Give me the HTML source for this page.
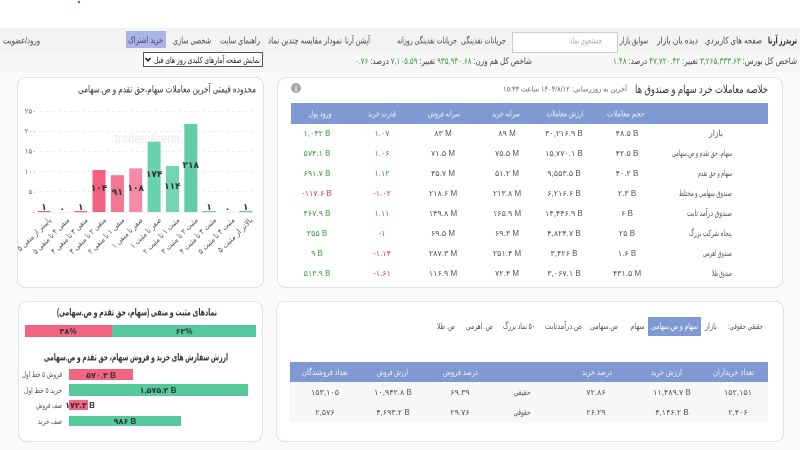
<!DOCTYPE html>
<html><head><meta charset="utf-8">
<style>
*{margin:0;padding:0}
body{width:800px;height:450px;overflow:hidden;background:#fafafa}
svg{display:block}
text{font-family:"Liberation Sans","DejaVu Sans",sans-serif}
.p{direction:rtl}
.nv{font-size:9px;fill:#444}
.th{font-size:8.5px;fill:#eef2fb}
.td{font-size:8px;fill:#555}
.tn{font-size:8.5px;fill:#555}
.g{fill:#3f9a3f}
.rd{fill:#e23a52}
.bl{font-size:9px;font-weight:bold;fill:#333}
.yl{font-size:7px;fill:#666}
.xl{font-size:8px;fill:#555}
.tb{font-size:8.5px;fill:#555}
</style></head><body>
<svg width="800" height="450" viewBox="0 0 800 450" xmlns="http://www.w3.org/2000/svg">
<rect x="0" y="0" width="800" height="450" fill="#fafafa"/>
<rect x="0" y="0" width="800" height="28" fill="#fff"/>
<rect x="78" y="1" width="2" height="2" fill="#e33"/>
<rect x="0" y="28" width="800" height="24" fill="#f3f3f3"/>
<rect x="0" y="52" width="800" height="20" fill="#f7f7f7"/>

<!-- nav -->
<text class="p" x="782.5" y="43.5" font-size="9.5" font-weight="bold" fill="#222" text-anchor="middle" textLength="29" lengthAdjust="spacingAndGlyphs">تریدرز آرنا</text>
<text class="p nv" x="733.5" y="43.5" text-anchor="middle" textLength="57" lengthAdjust="spacingAndGlyphs">صفحه های کاربردی</text>
<text class="p nv" x="677.5" y="43.5" text-anchor="middle" textLength="41" lengthAdjust="spacingAndGlyphs">دیده بان بازار</text>
<text class="p nv" x="634" y="43.5" text-anchor="middle" textLength="28" lengthAdjust="spacingAndGlyphs">سوابق بازار</text>
<rect x="512.5" y="32.5" width="105" height="20" fill="#fff" stroke="#ccc"/>
<text class="p nv" x="586" y="43.5" style="fill:#aaa" text-anchor="middle" textLength="32" lengthAdjust="spacingAndGlyphs">جستجوی نماد</text>
<text class="p nv" x="483.5" y="43.5" text-anchor="middle" textLength="45" lengthAdjust="spacingAndGlyphs">جریانات نقدینگی</text>
<text class="p nv" x="427" y="43.5" text-anchor="middle" textLength="60" lengthAdjust="spacingAndGlyphs">جریانات نقدینگی روزانه</text>
<text class="p nv" x="357.5" y="43.5" text-anchor="middle" textLength="25" lengthAdjust="spacingAndGlyphs">آپشن آرنا</text>
<text class="p nv" x="305" y="43.5" text-anchor="middle" textLength="74" lengthAdjust="spacingAndGlyphs">نمودار مقایسه چندین نماد</text>
<text class="p nv" x="240" y="43.5" text-anchor="middle" textLength="40" lengthAdjust="spacingAndGlyphs">راهنمای سایت</text>
<text class="p nv" x="192" y="43.5" text-anchor="middle" textLength="38" lengthAdjust="spacingAndGlyphs">شخصی سازی</text>
<rect x="126" y="31" width="40" height="17" fill="#a9b3ec"/>
<text class="p nv" x="145.5" y="43" text-anchor="middle" textLength="35" lengthAdjust="spacingAndGlyphs">خرید اشتراک</text>
<text class="p nv" x="21.5" y="43.5" text-anchor="middle" textLength="37" lengthAdjust="spacingAndGlyphs">ورود/عضویت</text>

<text class="p nv" x="705" y="64" text-anchor="middle" textLength="184" lengthAdjust="spacingAndGlyphs">شاخص کل بورس: <tspan class="g">۳,۲۶۵,۳۳۳.۶۳</tspan> تغییر: <tspan class="g">۴۷,۷۲۰.۴۲</tspan> درصد: <tspan class="g">۱.۴۸</tspan></text>
<text class="p nv" x="443.5" y="64" text-anchor="middle" textLength="177" lengthAdjust="spacingAndGlyphs">شاخص کل هم وزن: <tspan class="g">۹۳۵,۹۴۰.۶۸</tspan> تغییر: <tspan class="g">۷,۱۰۵.۵۹</tspan> درصد: <tspan class="g">۰.۷۶</tspan></text>

<rect x="143.5" y="52.5" width="119" height="14" fill="#fff" stroke="#555"/>
<text class="p" x="207" y="62.8" font-size="8.5" fill="#222" text-anchor="middle" textLength="106" lengthAdjust="spacingAndGlyphs">نمایش صفحه آمارهای کلیدی روز های قبل</text>
<polyline points="145.5,58 148,60.8 150.5,58" fill="none" stroke="#111" stroke-width="1.5"/>

<!-- cards -->
<rect x="17.5" y="77.5" width="246" height="210" rx="8" fill="#fff" stroke="#e3e3e3"/>
<rect x="277.5" y="77.5" width="505" height="210" rx="8" fill="#fff" stroke="#e3e3e3"/>
<rect x="18.5" y="301.5" width="244" height="140" rx="8" fill="#fff" stroke="#e3e3e3"/>
<rect x="276.5" y="301.5" width="507" height="140" rx="8" fill="#fff" stroke="#e3e3e3"/>

<!-- left chart -->
<text class="p" x="167" y="92.5" font-size="10" fill="#333" text-anchor="middle" textLength="178" lengthAdjust="spacingAndGlyphs">محدوده قیمتی آخرین معاملات سهام،حق تقدم و ص.سهامی</text>
<text x="149" y="143" font-size="14" fill="#ebebeb" text-anchor="middle" textLength="68" lengthAdjust="spacingAndGlyphs">tradersArena.</text>

<g stroke="#ececec" stroke-dasharray="3,3">
<line x1="40" y1="111.5" x2="256" y2="111.5"/>
<line x1="40" y1="131.5" x2="256" y2="131.5"/>
<line x1="40" y1="151.5" x2="256" y2="151.5"/>
<line x1="40" y1="171.5" x2="256" y2="171.5"/>
<line x1="40" y1="191.5" x2="256" y2="191.5"/>
<line x1="40" y1="212.5" x2="256" y2="212.5"/>
</g>
<text class="yl" x="36" y="113.5" text-anchor="end">۲۵۰</text>
<text class="yl" x="36" y="133.5" text-anchor="end">۲۰۰</text>
<text class="yl" x="36" y="153.5" text-anchor="end">۱۵۰</text>
<text class="yl" x="36" y="174" text-anchor="end">۱۰۰</text>
<text class="yl" x="36" y="194" text-anchor="end">۵۰</text>
<text class="yl" x="36" y="214.5" text-anchor="end">۰</text>

<rect x="37.5" y="211" width="13" height="1.2" fill="#f2617f"/>
<rect x="74.2" y="211" width="13" height="1.2" fill="#f2617f"/>
<rect x="92.5" y="170" width="13" height="42" fill="#f2617f"/>
<rect x="110.9" y="175.2" width="13" height="36.8" fill="#f27592"/>
<rect x="129.2" y="168.4" width="13" height="43.6" fill="#f58aa5"/>
<rect x="147.6" y="141.7" width="13" height="70.3" fill="#68d2ab"/>
<rect x="166" y="165.9" width="13" height="46.1" fill="#72d5b2"/>
<rect x="184.3" y="123.9" width="13" height="88.1" fill="#62cca4"/>
<rect x="202.6" y="211" width="13" height="1.2" fill="#62cca4"/>
<rect x="239.3" y="211" width="13" height="1.2" fill="#62cca4"/>

<text class="bl" x="44" y="210" text-anchor="middle">۱</text>
<text class="bl" x="62.3" y="212" text-anchor="middle">۰</text>
<text class="bl" x="80.7" y="210" text-anchor="middle">۱</text>
<text class="bl" x="99" y="191" text-anchor="middle">۱۰۴</text>
<text class="bl" x="117.4" y="195" text-anchor="middle">۹۱</text>
<text class="bl" x="135.7" y="191" text-anchor="middle">۱۰۸</text>
<text class="bl" x="154.1" y="177" text-anchor="middle">۱۷۴</text>
<text class="bl" x="172.4" y="189" text-anchor="middle">۱۱۴</text>
<text class="bl" x="190.8" y="168" text-anchor="middle">۲۱۸</text>
<text class="bl" x="209.1" y="210" text-anchor="middle">۱</text>
<text class="bl" x="227.5" y="212" text-anchor="middle">۰</text>
<text class="bl" x="245.8" y="210" text-anchor="middle">۱</text>

<g transform="translate(48,217) rotate(-45)"><text class="p xl" x="-22" y="5" text-anchor="middle" textLength="44" lengthAdjust="spacingAndGlyphs">پایینتر از منفی ۵</text></g>
<g transform="translate(66.3,217) rotate(-45)"><text class="p xl" x="-24" y="5" text-anchor="middle" textLength="48" lengthAdjust="spacingAndGlyphs">منفی ۴ تا منفی ۵</text></g>
<g transform="translate(84.7,217) rotate(-45)"><text class="p xl" x="-24" y="5" text-anchor="middle" textLength="48" lengthAdjust="spacingAndGlyphs">منفی ۳ تا منفی ۴</text></g>
<g transform="translate(103,217) rotate(-45)"><text class="p xl" x="-24" y="5" text-anchor="middle" textLength="48" lengthAdjust="spacingAndGlyphs">منفی ۲ تا منفی ۳</text></g>
<g transform="translate(121.4,217) rotate(-45)"><text class="p xl" x="-24" y="5" text-anchor="middle" textLength="48" lengthAdjust="spacingAndGlyphs">منفی ۱ تا منفی ۲</text></g>
<g transform="translate(139.7,217) rotate(-45)"><text class="p xl" x="-20" y="5" text-anchor="middle" textLength="40" lengthAdjust="spacingAndGlyphs">صفر تا منفی ۱</text></g>
<g transform="translate(158.1,217) rotate(-45)"><text class="p xl" x="-20" y="5" text-anchor="middle" textLength="40" lengthAdjust="spacingAndGlyphs">صفر تا مثبت ۱</text></g>
<g transform="translate(176.4,217) rotate(-45)"><text class="p xl" x="-24" y="5" text-anchor="middle" textLength="48" lengthAdjust="spacingAndGlyphs">مثبت ۱ تا مثبت ۲</text></g>
<g transform="translate(194.8,217) rotate(-45)"><text class="p xl" x="-24" y="5" text-anchor="middle" textLength="48" lengthAdjust="spacingAndGlyphs">مثبت ۲ تا مثبت ۳</text></g>
<g transform="translate(213.1,217) rotate(-45)"><text class="p xl" x="-24" y="5" text-anchor="middle" textLength="48" lengthAdjust="spacingAndGlyphs">مثبت ۳ تا مثبت ۴</text></g>
<g transform="translate(231.5,217) rotate(-45)"><text class="p xl" x="-24" y="5" text-anchor="middle" textLength="48" lengthAdjust="spacingAndGlyphs">مثبت ۴ تا مثبت ۵</text></g>
<g transform="translate(249.8,217) rotate(-45)"><text class="p xl" x="-23" y="5" text-anchor="middle" textLength="46" lengthAdjust="spacingAndGlyphs">بالاتر از مثبت ۵</text></g>

<!-- top right table -->
<text class="p" x="701.5" y="93" font-size="11.5" fill="#333" text-anchor="middle" textLength="133" lengthAdjust="spacingAndGlyphs">خلاصه معاملات خرد سهام و صندوق ها</text>
<text class="p" x="565" y="91.5" font-size="7.5" fill="#666" text-anchor="middle" textLength="124" lengthAdjust="spacingAndGlyphs">آخرین به روزرسانی: ۱۴۰۴/۸/۱۲ ساعت ۱۵:۳۳</text>
<circle cx="296" cy="88" r="5" fill="#a8a8a8"/>
<text x="296" y="90.8" font-size="7.5" font-weight="bold" fill="#fff" text-anchor="middle" style="font-family:'Liberation Serif',serif">i</text>

<rect x="291" y="103" width="477" height="21" fill="#7f9ad3"/>
<text class="p th" x="626" y="116.5" text-anchor="middle" textLength="38" lengthAdjust="spacingAndGlyphs">حجم معاملات</text>
<text class="p th" x="565" y="116.5" text-anchor="middle" textLength="37" lengthAdjust="spacingAndGlyphs">ارزش معاملات</text>
<text class="p th" x="506" y="116.5" text-anchor="middle" textLength="28" lengthAdjust="spacingAndGlyphs">سرانه خرید</text>
<text class="p th" x="444" y="116.5" text-anchor="middle" textLength="32" lengthAdjust="spacingAndGlyphs">سرانه فروش</text>
<text class="p th" x="382" y="116.5" text-anchor="middle" textLength="28" lengthAdjust="spacingAndGlyphs">قدرت خرید</text>
<text class="p th" x="320" y="116.5" text-anchor="middle" textLength="23" lengthAdjust="spacingAndGlyphs">ورود پول</text>

<g text-anchor="middle">
<text class="p tn" x="716" y="136" textLength="14" lengthAdjust="spacingAndGlyphs">بازار</text>
<text class="td" x="627" y="136">۴۸.۵ B</text>
<text class="td" x="564" y="136">۳۰,۲۱۶.۹ B</text>
<text class="td" x="507" y="136">۸۹ M</text>
<text class="td" x="443" y="136">۸۳ M</text>
<text class="td g" x="382" y="136">۱.۰۷</text>
<text class="td g" x="317" y="136">۱,۰۴۲ B</text>

<text class="p tn" x="702" y="156" textLength="60" lengthAdjust="spacingAndGlyphs">سهام، حق تقدم و ص.سهامی</text>
<text class="td" x="627" y="156">۴۲.۵ B</text>
<text class="td" x="564" y="156">۱۵,۷۷۰.۱ B</text>
<text class="td" x="507" y="156">۷۵.۵ M</text>
<text class="td" x="443" y="156">۷۱.۵ M</text>
<text class="td g" x="382" y="156">۱.۰۶</text>
<text class="td g" x="317" y="156">۵۷۴.۱ B</text>

<text class="p tn" x="715" y="176" textLength="34" lengthAdjust="spacingAndGlyphs">سهام و حق تقدم</text>
<text class="td" x="627" y="176">۴۰.۲ B</text>
<text class="td" x="564" y="176">۹,۵۵۳.۵ B</text>
<text class="td" x="507" y="176">۵۱.۲ M</text>
<text class="td" x="443" y="176">۴۵.۷ M</text>
<text class="td g" x="382" y="176">۱.۱۲</text>
<text class="td g" x="317" y="176">۶۹۱.۷ B</text>

<text class="p tn" x="705.5" y="196" textLength="53" lengthAdjust="spacingAndGlyphs">صندوق سهامی و مختلط</text>
<text class="td" x="627" y="196">۲.۳ B</text>
<text class="td" x="564" y="196">۶,۲۱۶.۶ B</text>
<text class="td" x="507" y="196">۲۱۳.۸ M</text>
<text class="td" x="443" y="196">۲۱۸.۶ M</text>
<text class="td rd" x="382" y="196">-۱.۰۲</text>
<text class="td rd" x="317" y="196">-۱۱۷.۶ B</text>

<text class="p tn" x="709.5" y="216" textLength="45" lengthAdjust="spacingAndGlyphs">صندوق درآمد ثابت</text>
<text class="td" x="627" y="216">۶ B</text>
<text class="td" x="564" y="216">۱۴,۴۴۶.۹ B</text>
<text class="td" x="507" y="216">۱۶۵.۹ M</text>
<text class="td" x="443" y="216">۱۴۹.۸ M</text>
<text class="td g" x="382" y="216">۱.۱۱</text>
<text class="td g" x="317" y="216">۴۶۷.۹ B</text>

<text class="p tn" x="710.5" y="236" textLength="43" lengthAdjust="spacingAndGlyphs">پنجاه شرکت بزرگ</text>
<text class="td" x="627" y="236">۲۵ B</text>
<text class="td" x="564" y="236">۴,۸۲۴.۷ B</text>
<text class="td" x="507" y="236">۶۹.۳ M</text>
<text class="td" x="443" y="236">۶۹.۵ M</text>
<text class="td rd" x="382" y="236">-۱</text>
<text class="td g" x="317" y="236">۳۵۵ B</text>

<text class="p tn" x="717.5" y="256" textLength="29" lengthAdjust="spacingAndGlyphs">صندوق اهرمی</text>
<text class="td" x="627" y="256">۱.۶ B</text>
<text class="td" x="564" y="256">۳,۴۲۶ B</text>
<text class="td" x="507" y="256">۲۵۱.۴ M</text>
<text class="td" x="443" y="256">۲۸۷.۳ M</text>
<text class="td rd" x="382" y="256">-۱.۱۴</text>
<text class="td g" x="317" y="256">۹ B</text>

<text class="p tn" x="722" y="276" textLength="20" lengthAdjust="spacingAndGlyphs">صندوق طلا</text>
<text class="td" x="627" y="276">۴۳۱.۵ M</text>
<text class="td" x="564" y="276">۳,۰۶۷.۱ B</text>
<text class="td" x="507" y="276">۷۲.۴ M</text>
<text class="td" x="443" y="276">۱۱۶.۹ M</text>
<text class="td rd" x="382" y="276">-۱.۶۱</text>
<text class="td g" x="317" y="276">۵۱۳.۹ B</text>
</g>

<!-- bottom left -->
<text class="p" x="137" y="315.5" font-size="10" font-weight="bold" fill="#333" text-anchor="middle" textLength="160" lengthAdjust="spacingAndGlyphs">نمادهای مثبت و منفی (سهام، حق تقدم و ص.سهامی)</text>
<rect x="25" y="325" width="87" height="12" fill="#f2647f"/>
<rect x="112" y="325" width="144" height="12" fill="#55c99b"/>
<text x="68" y="334" font-size="8" font-weight="bold" fill="#333" text-anchor="middle">۳۸%</text>
<text x="184" y="334" font-size="8" font-weight="bold" fill="#333" text-anchor="middle">۶۲%</text>
<text class="p" x="136" y="360.5" font-size="10" font-weight="bold" fill="#333" text-anchor="middle" textLength="184" lengthAdjust="spacingAndGlyphs">ارزش سفارش های خرید و فروش سهام، حق تقدم و ص.سهامی</text>

<text class="p" x="42" y="377" font-size="8" fill="#555" text-anchor="middle" textLength="40" lengthAdjust="spacingAndGlyphs">فروش ۵ خط اول</text>
<text class="p" x="43" y="393" font-size="8" fill="#555" text-anchor="middle" textLength="38" lengthAdjust="spacingAndGlyphs">خرید ۵ خط اول</text>
<text class="p" x="49" y="408" font-size="8" fill="#555" text-anchor="middle" textLength="26" lengthAdjust="spacingAndGlyphs">صف فروش</text>
<text class="p" x="50" y="424" font-size="8" fill="#555" text-anchor="middle" textLength="24" lengthAdjust="spacingAndGlyphs">صف خرید</text>
<rect x="69" y="369" width="64" height="11" fill="#f2647f"/>
<rect x="69" y="384" width="179" height="12" fill="#55c99b"/>
<rect x="69" y="400" width="19" height="10" fill="#f2647f"/>
<rect x="69" y="416" width="112" height="10" fill="#55c99b"/>
<text x="101" y="378" font-size="8" font-weight="bold" fill="#333" text-anchor="middle">۵۷۰.۳ B</text>
<text x="158" y="393" font-size="8" font-weight="bold" fill="#333" text-anchor="middle">۱,۵۷۵.۲ B</text>
<text x="80" y="408" font-size="8" font-weight="bold" fill="#333" text-anchor="middle">۱۷۲.۳ B</text>
<text x="125" y="424" font-size="8" font-weight="bold" fill="#333" text-anchor="middle">۹۸۶ B</text>

<!-- bottom right -->
<g text-anchor="middle">
<text class="p tb" x="745.5" y="329" textLength="35" lengthAdjust="spacingAndGlyphs">حقیقی حقوقی:</text>
<text class="p tb" x="711" y="329" textLength="12" lengthAdjust="spacingAndGlyphs">بازار</text>
<rect x="648" y="317" width="53" height="19" fill="#7e99d4"/>
<text class="p" x="674.5" y="329" font-size="8.5" fill="#fff" textLength="47" lengthAdjust="spacingAndGlyphs">سهام و ص.سهامی</text>
<text class="p tb" x="637.5" y="329" textLength="14" lengthAdjust="spacingAndGlyphs">سهام</text>
<text class="p tb" x="604" y="329" textLength="28" lengthAdjust="spacingAndGlyphs">ص.سهامی</text>
<text class="p tb" x="563.5" y="329" textLength="37" lengthAdjust="spacingAndGlyphs">ص.درآمدثابت</text>
<text class="p tb" x="519" y="329" textLength="32" lengthAdjust="spacingAndGlyphs">۵۰ نماد بزرگ</text>
<text class="p tb" x="479.5" y="329" textLength="27" lengthAdjust="spacingAndGlyphs">ص. اهرمی</text>
<text class="p tb" x="446" y="329" textLength="18" lengthAdjust="spacingAndGlyphs">ص. طلا</text>
</g>

<rect x="290" y="362" width="478" height="20" fill="#7f9ad3"/>
<rect x="290" y="382" width="478" height="41" fill="#f7f7f7"/>
<g text-anchor="middle">
<text class="p th" x="733.5" y="375" textLength="41" lengthAdjust="spacingAndGlyphs">تعداد خریداران</text>
<text class="p th" x="666.5" y="375" textLength="31" lengthAdjust="spacingAndGlyphs">ارزش خرید</text>
<text class="p th" x="597" y="375" textLength="30" lengthAdjust="spacingAndGlyphs">درصد خرید</text>
<text class="p th" x="460.5" y="375" textLength="35" lengthAdjust="spacingAndGlyphs">درصد فروش</text>
<text class="p th" x="392.5" y="375" textLength="31" lengthAdjust="spacingAndGlyphs">ارزش فروش</text>
<text class="p th" x="325" y="375" textLength="46" lengthAdjust="spacingAndGlyphs">تعداد فروشندگان</text>

<text class="td" x="738" y="395">۱۵۲,۱۵۱</text>
<text class="td" x="672" y="395">۱۱,۴۸۹.۷ B</text>
<text class="td" x="596" y="395">۷۲.۸۶</text>
<text class="p tn" x="522" y="395" textLength="17" lengthAdjust="spacingAndGlyphs">حقیقی</text>
<text class="td" x="460" y="395">۶۹.۳۹</text>
<text class="td" x="393" y="395">۱۰,۹۴۲.۸ B</text>
<text class="td" x="325" y="395">۱۵۳,۱۰۵</text>

<text class="td" x="738" y="415">۲,۴۰۶</text>
<text class="td" x="672" y="415">۴,۱۴۶.۲ B</text>
<text class="td" x="596" y="415">۲۶.۲۹</text>
<text class="p tn" x="522" y="415" textLength="17" lengthAdjust="spacingAndGlyphs">حقوقی</text>
<text class="td" x="460" y="415">۲۹.۷۶</text>
<text class="td" x="393" y="415">۴,۶۹۳.۲ B</text>
<text class="td" x="325" y="415">۲,۵۷۶</text>
</g>
</svg>
</body></html>
